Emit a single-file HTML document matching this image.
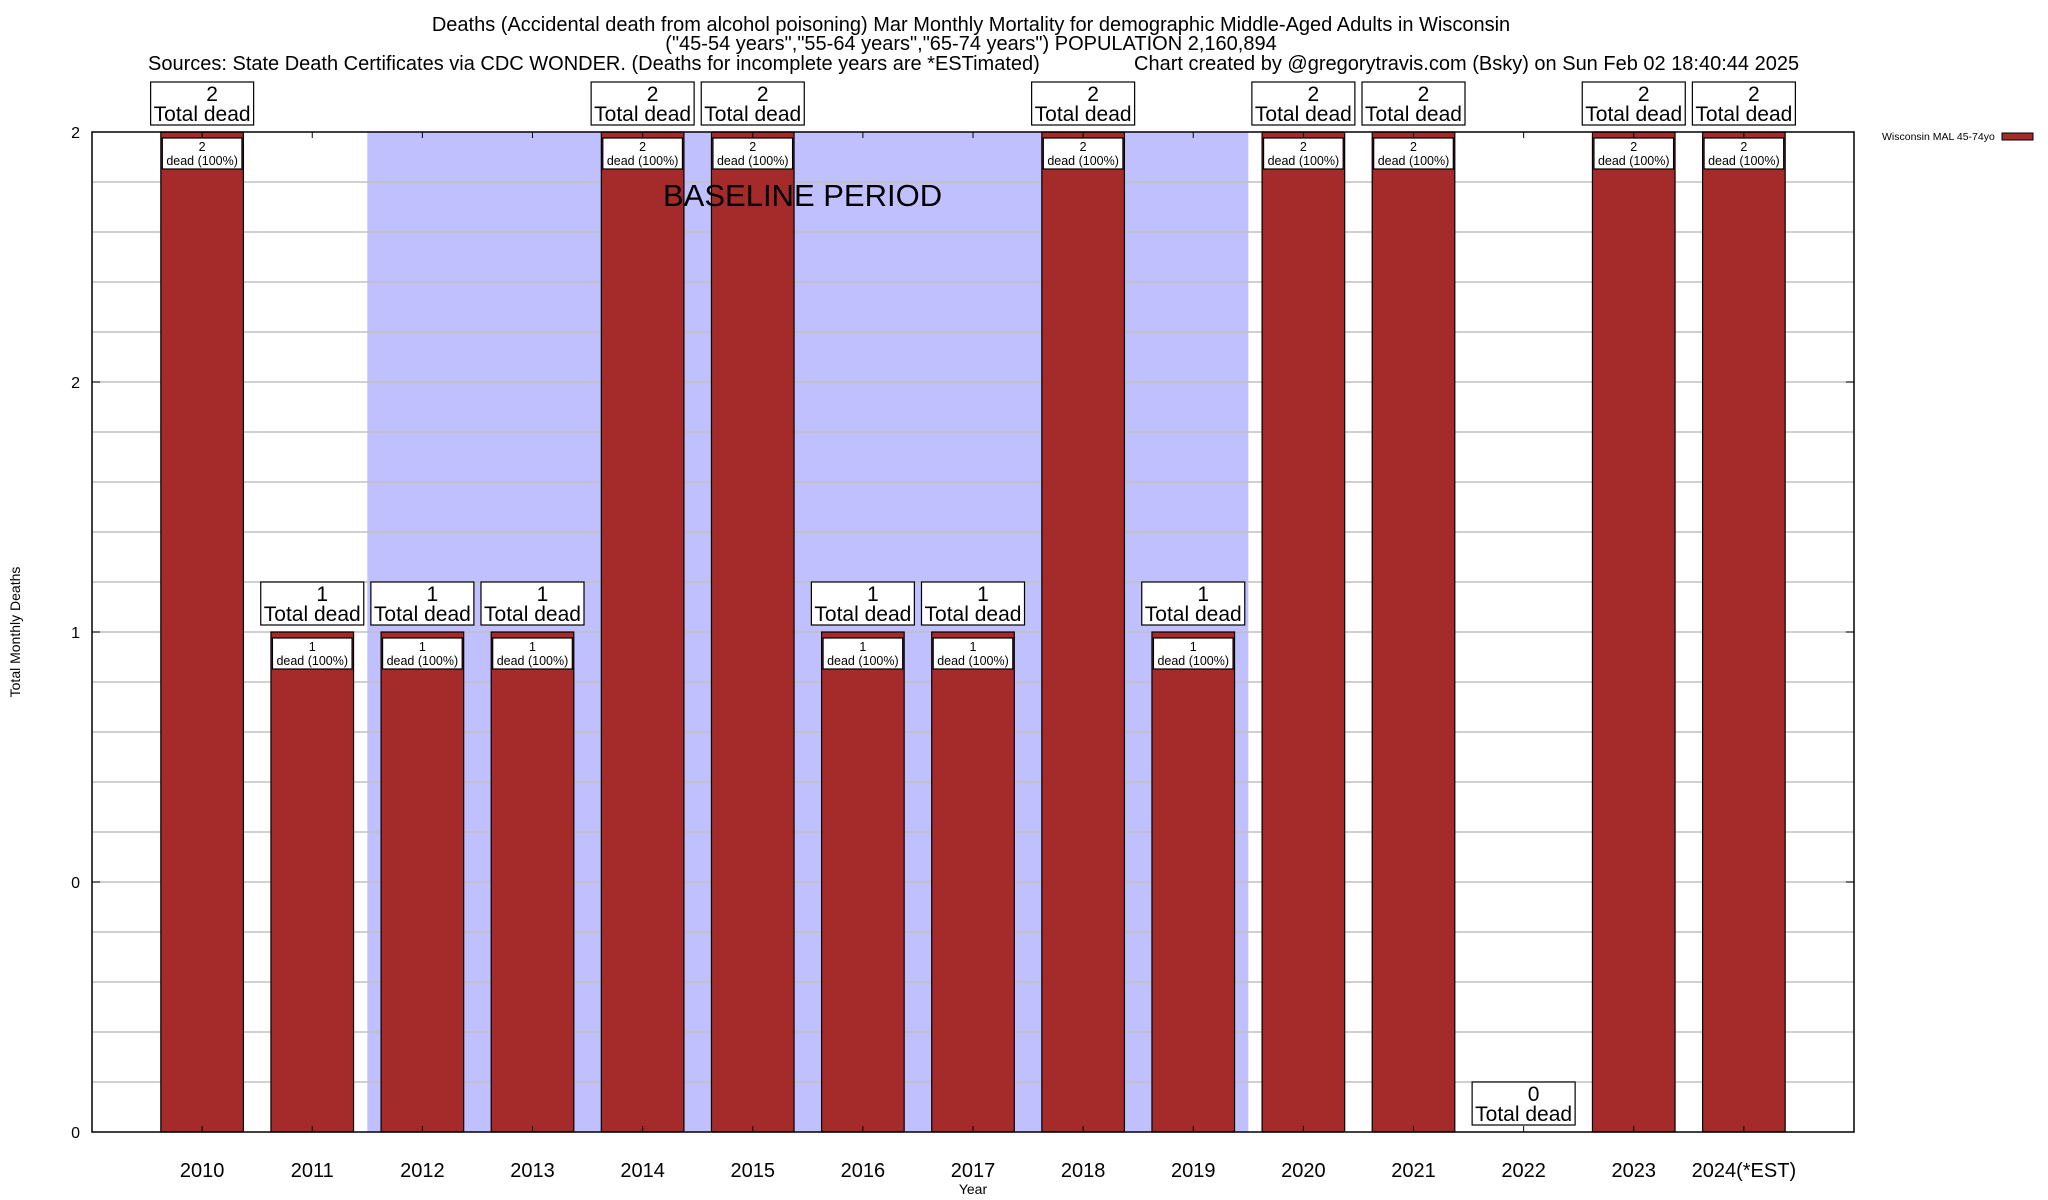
<!DOCTYPE html>
<html><head><meta charset="utf-8"><style>
html,body{margin:0;padding:0;background:#fff;}
svg{display:block;font-family:"Liberation Sans",sans-serif;}
</style></head><body>
<svg id="chart" width="2048" height="1200" viewBox="0 0 2048 1200" xmlns="http://www.w3.org/2000/svg">
<rect width="2048" height="1200" fill="#fff"/>
<g id="titles" font-size="20" fill="#000">
<text x="971" y="31" text-anchor="middle">Deaths (Accidental death from alcohol poisoning) Mar Monthly Mortality for demographic Middle-Aged Adults in Wisconsin</text>
<text x="971" y="50" text-anchor="middle">("45-54 years","55-64 years","65-74 years") POPULATION 2,160,894</text>
<text x="148" y="70">Sources: State Death Certificates via CDC WONDER. (Deaths for incomplete years are *ESTimated)</text>
<text x="1134" y="70">Chart created by @gregorytravis.com (Bsky) on Sun Feb 02 18:40:44 2025</text>
</g>
<g id="plot"></g>
<text x="20" y="632" font-size="14" text-anchor="middle" transform="rotate(-90 20 632)">Total Monthly Deaths</text>
<text x="973" y="1194" font-size="14" text-anchor="middle">Year</text>
<g>
<text x="1882" y="140" font-size="10.5">Wisconsin MAL 45-74yo</text>
<rect x="2002" y="133" width="31" height="7" fill="#a52a2a" stroke="#000" stroke-width="1"/>
</g>
</svg>
<script>
const categories = ["2010","2011","2012","2013","2014","2015","2016","2017","2018","2019","2020","2021","2022","2023","2024(*EST)"];
const deaths = [2,1,1,1,2,2,1,1,2,1,2,2,0,2,2];
const yTickValues = [0,0.5,1,1.5,2];
const yTickLabels = ["0","0","1","2","2"];
const baselineStart = 1.5, baselineEnd = 9.5;

const NS="http://www.w3.org/2000/svg";
const L=92,R=1854,T=132,B=1132;
const xs = i => L + (i+1)*(R-L)/(categories.length+1);
const ys = v => B - v*(B-T)/2;
const plot=document.getElementById('plot');
function mk(tag,attrs,parent){const e=document.createElementNS(NS,tag);for(const k in attrs)e.setAttribute(k,attrs[k]);(parent||plot).appendChild(e);return e;}

const band=mk('rect',{x:xs(baselineStart),y:T,width:xs(baselineEnd)-xs(baselineStart),height:B-T,fill:'#c0c0ff'});


for(let k=1;k<20;k++){
  const g=mk('line',{x1:L,x2:R,y1:ys(k*0.1),y2:ys(k*0.1),stroke:'#c0c0c0','stroke-width':1.5});
  
  
}

const bw=(xs(1)-xs(0))*0.75;
categories.forEach((c,i)=>{
  const cx=xs(i),v=deaths[i],top=ys(v);
  const g=mk('g',{});
  
  
  if(v>0){
    mk('rect',{x:cx-bw/2,y:top,width:bw,height:B-top,fill:'#a52a2a',stroke:'#000','stroke-width':1.2},g);
    mk('rect',{x:cx-bw/2+1.5,y:top+6,width:bw-3,height:31,fill:'#fff',stroke:'#000','stroke-width':1.2},g);
    const t1=mk('text',{x:cx,y:top+19,'font-size':12.5,'text-anchor':'middle'},g);t1.textContent=v;
    const t2=mk('text',{x:cx,y:top+33,'font-size':12.5,'text-anchor':'middle'},g);t2.textContent='dead (100%)';
  } else {
    mk('rect',{x:cx-3,y:B-26,width:5,height:5,fill:'#fff',stroke:'#000','stroke-width':1},g);
  }
  const lb=mk('g',{});
  
  
  mk('rect',{x:cx-51.5,y:top-50,width:103,height:43,fill:'#fff',stroke:'#000','stroke-width':1.2},lb);
  const a=mk('text',{x:cx+10,y:top-31,'font-size':21,'text-anchor':'middle'},lb);a.textContent=v;
  const b=mk('text',{x:cx,y:top-11,'font-size':21,'text-anchor':'middle'},lb);b.textContent='Total dead';
  const xl=mk('text',{x:cx,y:1177,'font-size':20,'text-anchor':'middle'});xl.textContent=c;
  
  
  mk('line',{x1:cx,x2:cx,y1:T,y2:T+6,stroke:'#000'});
  mk('line',{x1:cx,x2:cx,y1:B,y2:B-6,stroke:'#000'});
});
const bl=mk('text',{x:663,y:206,'font-size':31});bl.textContent='BASELINE PERIOD';


yTickValues.forEach((v,i)=>{
  const t=mk('text',{x:80,y:ys(v)+6,'font-size':16,'text-anchor':'end'});t.textContent=yTickLabels[i];
  
  
  mk('line',{x1:L,x2:L+8,y1:ys(v),y2:ys(v),stroke:'#000'});
  mk('line',{x1:R,x2:R-8,y1:ys(v),y2:ys(v),stroke:'#000'});
});
const frame=mk('rect',{x:L,y:T,width:R-L,height:B-T,fill:'none',stroke:'#000','stroke-width':1.5});


</script>
</body></html>
